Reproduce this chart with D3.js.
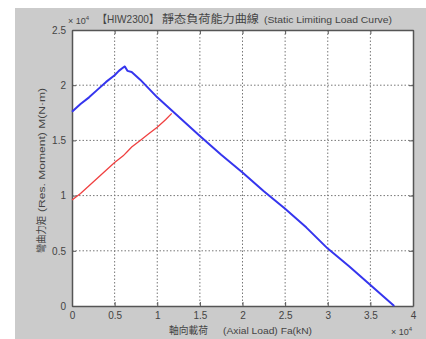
<!DOCTYPE html>
<html><head><meta charset="utf-8">
<script src="https://cdn.jsdelivr.net/npm/d3@7"></script>
<style>
html,body{margin:0;padding:0;background:#fff;}
svg{display:block;}
text{font-family:"Liberation Sans","Noto Sans CJK TC",sans-serif;fill:#444;}
</style></head>
<body>
<svg id="c" width="426" height="339"></svg>
<script>
const xTicks = [0, 0.5, 1, 1.5, 2, 2.5, 3, 3.5, 4];
const xTickLabels = ["0", "0.5", "1", "1.5", "2", "2.5", "3", "3.5", "4"];
const yTicks = [0, 0.5, 1, 1.5, 2, 2.5];
const yTickLabels = ["0", "0.5", "1", "1.5", "2", "2.5"];

// Blue curve (x in 10^4 N, y in 10^4 N·m)
const blueX = [0, 0.1, 0.2, 0.3, 0.4, 0.5, 0.55, 0.6, 0.62, 0.65, 0.7, 0.8, 1.0, 1.2, 1.5, 1.75, 2.0, 2.25, 2.5, 2.75, 3.0, 3.25, 3.5, 3.78];
const blueY = [1.76, 1.83, 1.89, 1.96, 2.03, 2.09, 2.13, 2.16, 2.17, 2.13, 2.12, 2.05, 1.89, 1.75, 1.54, 1.37, 1.21, 1.04, 0.88, 0.71, 0.52, 0.36, 0.19, 0.0];
// Red curve
const redX = [0, 0.1, 0.2, 0.3, 0.4, 0.5, 0.6, 0.65, 0.7, 0.8, 0.9, 1.0, 1.1, 1.17];
const redY = [0.96, 1.02, 1.09, 1.16, 1.23, 1.30, 1.36, 1.40, 1.44, 1.50, 1.56, 1.62, 1.69, 1.745];

const svg = d3.select("#c");
const L = 72, R = 413, T = 30, B = 306;
const x = d3.scaleLinear().domain([0, 4]).range([L, R]);
const y = d3.scaleLinear().domain([0, 2.5]).range([B, T]);

// figure background
svg.append("rect").attr("x", 15).attr("y", 8).attr("width", 411).attr("height", 331).attr("fill", "#cbcbcb");
svg.append("rect").attr("x", L).attr("y", T).attr("width", R - L).attr("height", B - T).attr("fill", "#fff");

// grid
const g = svg.append("g");
g.selectAll(".gx").data(xTicks.slice(1, -1)).join("line")
  .attr("x1", d => x(d)).attr("x2", d => x(d)).attr("y1", T).attr("y2", B)
  .attr("stroke", "#777").attr("stroke-width", 1).attr("stroke-dasharray", "1.5,2");
g.selectAll(".gy").data(yTicks.slice(1, -1)).join("line")
  .attr("y1", d => y(d)).attr("y2", d => y(d)).attr("x1", L).attr("x2", R)
  .attr("stroke", "#777").attr("stroke-width", 1).attr("stroke-dasharray", "1.5,2");

// axes with inner ticks
const xb = d3.axisBottom(x).tickValues(xTicks).tickFormat((d, i) => xTickLabels[i]).tickSizeInner(-4).tickSizeOuter(0).tickPadding(6);
const xt = d3.axisTop(x).tickValues(xTicks).tickFormat("").tickSizeInner(-4).tickSizeOuter(0);
const yl = d3.axisLeft(y).tickValues(yTicks).tickFormat((d, i) => yTickLabels[i]).tickSizeInner(-4).tickSizeOuter(0).tickPadding(6);
const yr = d3.axisRight(y).tickValues(yTicks).tickFormat("").tickSizeInner(-4).tickSizeOuter(0);
function style(sel) {
  sel.selectAll("path").attr("stroke", "#555").attr("stroke-width", 1.5);
  sel.selectAll("line").attr("stroke", "#555");
  sel.selectAll("text").attr("fill", "#555").attr("font-size", 10);
}
svg.append("g").attr("transform", `translate(0,${B})`).call(xb).call(style);
svg.append("g").attr("transform", `translate(0,${T})`).call(xt).call(style);
svg.append("g").attr("transform", `translate(${L},0)`).call(yl).call(style);
svg.append("g").attr("transform", `translate(${R},0)`).call(yr).call(style);

// lines
const line = d3.line().x(d => x(d[0])).y(d => y(d[1]));
svg.append("path").datum(redX.map((v, i) => [v, redY[i]])).attr("d", line)
  .attr("fill", "none").attr("stroke", "#f04040").attr("stroke-width", 1.3);
svg.append("path").datum(blueX.map((v, i) => [v, blueY[i]])).attr("d", line)
  .attr("fill", "none").attr("stroke", "#3535ee").attr("stroke-width", 2).attr("stroke-linejoin", "round");

// exponent labels
const e1 = svg.append("text").attr("x", 68).attr("y", 24).attr("font-size", 9).attr("fill", "#555");
e1.append("tspan").text("× 10");
e1.append("tspan").attr("dy", -4).attr("font-size", 6).text("4");
const e2 = svg.append("text").attr("x", 391).attr("y", 335).attr("font-size", 9).attr("fill", "#555");
e2.append("tspan").text("× 10");
e2.append("tspan").attr("dy", -4).attr("font-size", 6).text("4");

// title
function seg(x0, y0, len, size, str, cjk) {
  const s = svg.append("text").attr("x", x0).attr("y", y0).attr("font-size", size)
    .attr("textLength", len).attr("lengthAdjust", "spacingAndGlyphs").attr("fill", "#444").text(str);
  if (cjk) s.attr("font-family", "Noto Sans CJK TC");
  return s;
}
seg(97, 23, 62, 11, "【HIW2300】", true);
seg(162, 23, 97, 11, "靜态負荷能力曲線", true);
seg(264, 23, 128, 9, "(Static Limiting Load Curve)", false);

// x label
seg(169, 334, 39, 10, "軸向載荷", true);
seg(223, 334, 89, 9, "(Axial Load) Fa(kN)", false);

// y label
svg.append("text").attr("transform", "translate(45,253) rotate(-90)").attr("font-size", 10)
  .attr("font-family", "Noto Sans CJK TC").attr("textLength", 37).attr("lengthAdjust", "spacingAndGlyphs")
  .attr("fill", "#444").text("彎曲力矩");
svg.append("text").attr("transform", "translate(45,212) rotate(-90)").attr("font-size", 9)
  .attr("textLength", 124).attr("lengthAdjust", "spacingAndGlyphs")
  .attr("fill", "#444").text("(Res. Moment) M(N·m)");
</script>
</body></html>
